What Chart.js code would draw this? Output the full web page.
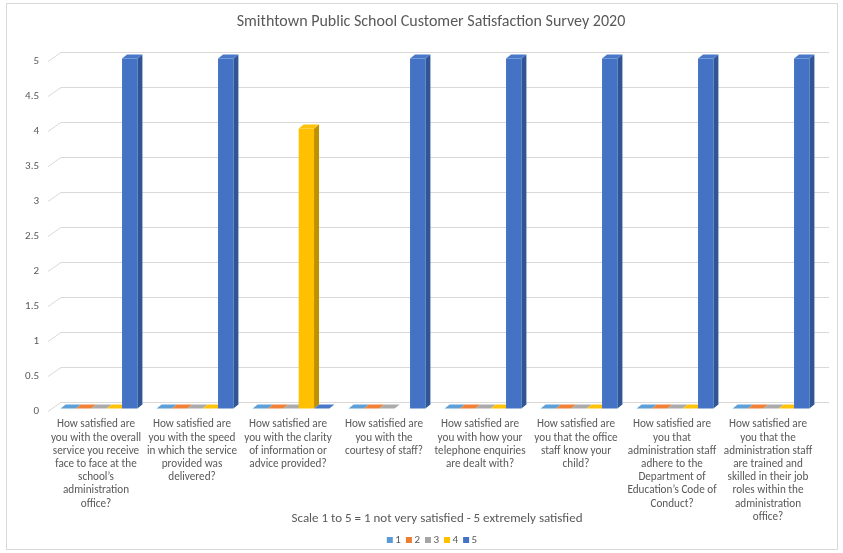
<!DOCTYPE html>
<html><head><meta charset="utf-8">
<script src="https://cdn.jsdelivr.net/npm/chart.js@4.4.0/dist/chart.umd.min.js"></script>
<style>html,body{margin:0;padding:0;background:#fff}#wrap{width:843px;height:553px;position:relative}</style>
</head><body><div id="wrap"><canvas id="c" width="843" height="553"></canvas></div>
<script>
const chartTitle = 'Smithtown Public School Customer Satisfaction Survey 2020';
const axisTitle = 'Scale 1 to 5 = 1 not very satisfied - 5 extremely satisfied';
const categories = [
 ['How satisfied are','you with the overall','service you receive','face to face at the','school’s','administration','office?'],
 ['How satisfied are','you with the speed','in which the service','provided was','delivered?'],
 ['How satisfied are','you with the clarity','of information or','advice provided?'],
 ['How satisfied are','you with the','courtesy of staff?'],
 ['How satisfied are','you with how your','telephone enquiries','are dealt with?'],
 ['How satisfied are','you that the office','staff know your','child?'],
 ['How satisfied are','you that','administration staff','adhere to the','Department of','Education’s Code of','Conduct?'],
 ['How satisfied are','you that the','administration staff','are trained and','skilled in their job','roles within the','administration','office?']
];
const seriesNames = ['1','2','3','4','5'];
const score1 = [0,0,0,0,0,0,0,0];
const score2 = [0,0,0,0,0,0,0,0];
const score3 = [0,0,0,0,0,0,0,0];
const score4 = [0,0,4,null,0,0,0,0];
const score5 = [5,5,0,5,5,5,5,5];
const yTicks = [0,0.5,1,1.5,2,2.5,3,3.5,4,4.5,5];
const frontColors = ['#5B9BD5','#ED7D31','#A5A5A5','#FFC000','#4472C4'];
const topColors   = ['#5F9FD8','#EF8238','#ABABAB','#FFC20A','#4A78C9'];
const sideColors  = ['#41719C','#AE5A21','#7C7C7C','#BF9000','#2F5597'];

const FONT = 'Carlito, Calibri, Lato, sans-serif';
const TEXT = '#595959';
const FLOOR = {dx: 13, dy: -9};
const BAR = {sx: 3, sy: -2.5, dx: 5, dy: -4};

const threeD = {
  id: 'threeD',
  beforeDatasetsDraw(chart) {
    const ctx = chart.ctx, ys = chart.scales.y, a = chart.chartArea;
    ctx.save();
    ctx.strokeStyle = '#D9D9D9'; ctx.lineWidth = 1;
    yTicks.forEach(v => {
      const y = Math.round(ys.getPixelForValue(v)) + 0.5;
      ctx.beginPath();
      ctx.moveTo(a.left, y);
      ctx.lineTo(a.left + FLOOR.dx, y + FLOOR.dy);
      ctx.lineTo(a.right + FLOOR.dx, y + FLOOR.dy);
      ctx.stroke();
    });
    const n = chart.data.labels.length;
    for (let i = 0; i < n; i++) {
      chart.data.datasets.forEach((ds, di) => {
        const v = ds.data[i];
        if (v === null || v === undefined) return;
        const el = chart.getDatasetMeta(di).data[i];
        const p = el.getProps(['x', 'y', 'base', 'width'], true);
        const l = p.x - p.width / 2 + BAR.sx, r = p.x + p.width / 2 + BAR.sx;
        const t = p.y + BAR.sy, b = p.base + BAR.sy;
        ctx.fillStyle = sideColors[di];
        ctx.beginPath();
        ctx.moveTo(r, t); ctx.lineTo(r + BAR.dx, t + BAR.dy); ctx.lineTo(r + BAR.dx, b + BAR.dy); ctx.lineTo(r, b);
        ctx.closePath(); ctx.fill();
        ctx.fillStyle = frontColors[di];
        ctx.fillRect(l, t, r - l, b - t);
        ctx.fillStyle = topColors[di];
        ctx.beginPath();
        ctx.moveTo(l, t); ctx.lineTo(l + BAR.dx, t + BAR.dy); ctx.lineTo(r + BAR.dx, t + BAR.dy); ctx.lineTo(r, t);
        ctx.closePath(); ctx.fill();
      });
    }
    ctx.restore();
    return false;
  },
  afterDraw(chart) {
    const ctx = chart.ctx;
    ctx.save();
    ctx.strokeStyle = '#D9D9D9'; ctx.lineWidth = 1;
    ctx.strokeRect(6.5, 3.5, 831, 546);
    ctx.fillStyle = TEXT;
    ctx.textAlign = 'center'; ctx.textBaseline = 'middle';
    ctx.font = '16px ' + FONT;
    ctx.fillText(chartTitle, 431, 22);
    ctx.font = '13px ' + FONT;
    ctx.fillText(axisTitle, 437, 519);
    ctx.font = '11px ' + FONT;
    const items = chart.data.datasets.map(d => ({label: d.label, color: d.backgroundColor, w: ctx.measureText(d.label).width}));
    const box = 6, gap = 2.5, sep = 5;
    const total = items.reduce((s, it) => s + box + gap + it.w, 0) + sep * (items.length - 1);
    let x = 432 - total / 2;
    ctx.textAlign = 'left';
    items.forEach(it => {
      ctx.fillStyle = it.color;
      ctx.fillRect(x, 537, box, box);
      ctx.fillStyle = TEXT;
      ctx.fillText(it.label, x + box + gap, 540.5);
      x += box + gap + it.w + sep;
    });
    ctx.restore();
  }
};

const seriesData = [score1, score2, score3, score4, score5];
new Chart(document.getElementById('c'), {
  type: 'bar',
  data: {
    labels: categories,
    datasets: seriesData.map((d, i) => ({label: seriesNames[i], data: d, backgroundColor: frontColors[i]}))
  },
  options: {
    responsive: false,
    animation: false,
    layout: {padding: {top: 61, right: 27, left: 0, bottom: 0}},
    datasets: {bar: {categoryPercentage: 0.8, barPercentage: 1}},
    plugins: {legend: {display: false}, title: {display: false}, tooltip: {enabled: false}},
    scales: {
      x: {
        grid: {display: false, drawTicks: false}, border: {display: false},
        ticks: {autoSkip: false, maxRotation: 0, minRotation: 0, padding: 7, color: TEXT, font: {family: FONT, size: 11.2, lineHeight: 1.18}},
        afterFit(s) { s.height = 142; }
      },
      y: {
        min: 0, max: 5,
        grid: {display: false, drawTicks: false}, border: {display: false},
        ticks: {stepSize: 0.5, padding: 9, color: TEXT, font: {family: FONT, size: 11}, callback: v => String(+v)},
        afterFit(s) { s.width = 48; }
      }
    }
  },
  plugins: [threeD]
});
</script></body></html>
